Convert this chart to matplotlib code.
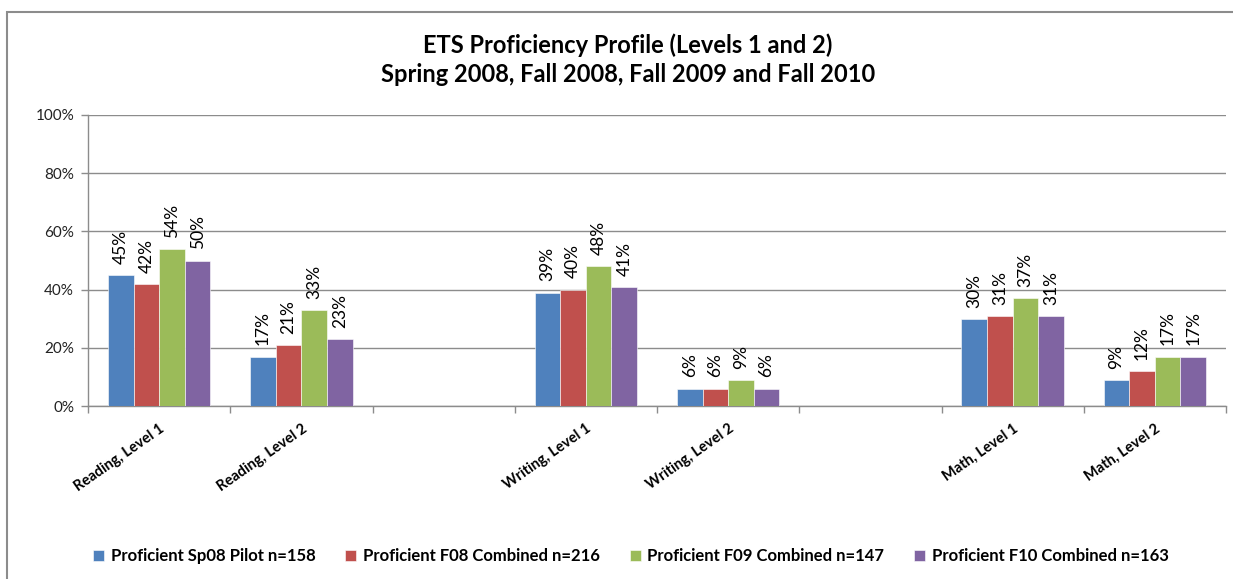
import numpy as np
import matplotlib
matplotlib.use("Agg")
import matplotlib.pyplot as plt
from matplotlib.patches import Rectangle

plt.rcParams['font.family'] = ['Lato', 'DejaVu Sans']

categories = ["Reading, Level 1", "Reading, Level 2", "",
              "Writing, Level 1", "Writing, Level 2", "",
              "Math, Level 1", "Math, Level 2"]
series_names = ["Proficient Sp08 Pilot n=158",
                "Proficient F08 Combined n=216",
                "Proficient F09 Combined n=147",
                "Proficient F10 Combined n=163"]
sp08 = [45, 17, None, 39, 6, None, 30, 9]
f08 = [42, 21, None, 40, 6, None, 31, 12]
f09 = [54, 33, None, 48, 9, None, 37, 17]
f10 = [50, 23, None, 41, 6, None, 31, 17]
series_values = [sp08, f08, f09, f10]
colors = ["#4F81BD", "#C0504D", "#9BBB59", "#8064A2"]
yticks = [0, 20, 40, 60, 80, 100]
ytick_labels = ["0%", "20%", "40%", "60%", "80%", "100%"]
title = "ETS Proficiency Profile (Levels 1 and 2)\nSpring 2008, Fall 2008, Fall 2009 and Fall 2010"

W, H = 1233, 579
fig = plt.figure(figsize=(W / 100, H / 100), dpi=100)
fig.patches.append(Rectangle((7 / W, -0.05), 1.1, 1 - 12 / H + 0.05,
                             transform=fig.transFigure, fill=False,
                             edgecolor="#8C8C8C", linewidth=1.5, zorder=0))

ax = fig.add_axes([88 / W, 1 - 406 / H, (1226 - 88) / W, (406 - 115) / H])

n = len(categories)
bw = 0.18
x = np.arange(n)
handles = []
for i, (vals, c, name) in enumerate(zip(series_values, colors, series_names)):
    xs = [xi for xi, v in zip(x, vals) if v is not None]
    vs = [v for v in vals if v is not None]
    offs = (i - 1.5) * bw
    b = ax.bar(np.array(xs) + offs, vs, width=bw, color=c, edgecolor="white",
               linewidth=0.4, zorder=3, label=name)
    handles.append(b)
    for xi, v in zip(xs, vs):
        ax.annotate(f"{v}%", (xi + offs, v), xytext=(0, 8),
                    textcoords="offset points", rotation=90,
                    ha="center", va="bottom", fontsize=12.5, color="black")

ax.set_xlim(-0.5, n - 0.5)
ax.set_ylim(0, 100)
ax.set_yticks(yticks)
ax.set_yticklabels(ytick_labels, fontsize=11, color="#222222")
ax.yaxis.grid(True, color="#8C8C8C", linewidth=1, zorder=0)
ax.set_axisbelow(True)

ax.set_xticks(x)
ax.set_xticklabels(categories, rotation=35, ha="right", rotation_mode="anchor",
                   fontsize=10.5, fontweight="bold")
ax.tick_params(axis="x", length=0, pad=11)
ax.set_xticks(np.arange(-0.5, n, 1.0), minor=True)
ax.tick_params(axis="x", which="minor", length=5, color="#8C8C8C", width=1)
ax.tick_params(axis="y", length=5, color="#8C8C8C", width=1, pad=5)

for s in ["top", "right"]:
    ax.spines[s].set_visible(False)
for s in ["left", "bottom"]:
    ax.spines[s].set_color("#8C8C8C")
    ax.spines[s].set_linewidth(1)

fig.text(628 / W, 1 - 60 / H, title, ha="center", va="center",
         fontsize=17, fontweight="bold", linespacing=1.3)

fig.legend(handles=handles, labels=series_names, loc="center",
           bbox_to_anchor=(631 / W, 1 - 556 / H), ncol=4, frameon=False,
           prop={"weight": "bold", "size": 12},
           handlelength=0.65, handleheight=0.65, handletextpad=0.4,
           columnspacing=1.8)

fig.savefig("out.png", dpi=100)
